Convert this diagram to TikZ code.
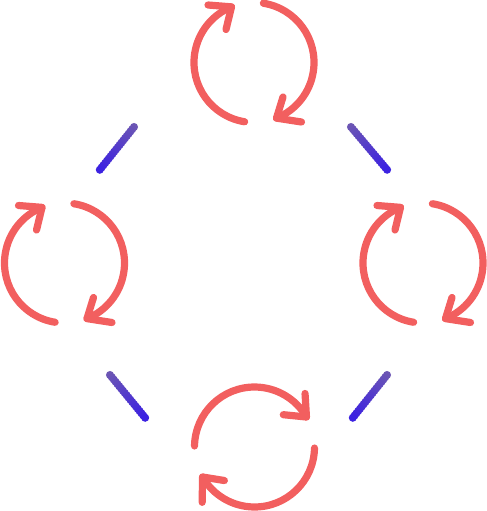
\documentclass[tikz,border=0pt]{standalone}
\usepackage{xcolor}
\usepackage{tikz}
\usetikzlibrary{calc}
\definecolor{CycleRed}{HTML}{F25F5F}
\definecolor{LinkBlue}{HTML}{3A1FE3}
\definecolor{LinkPurple}{HTML}{6C56B4}

\begin{document}
\begin{tikzpicture}[
    cyclearc/.style={CycleRed, line width=4.1pt, line cap=round, line join=round},
    linkbar/.style={line width=4.6pt, line cap=round},
    cycle/.pic={
      \draw[cyclearc] (261:1.2) arc[start angle=261, end angle=112, radius=1.2];
      \draw[cyclearc] (-0.92,1.15) -- (112:1.2) -- (-0.56,0.66);
      \draw[cyclearc] (81:1.2) arc[start angle=81, end angle=-68, radius=1.2];
      \draw[cyclearc] (0.95,-1.19) -- (-68:1.2) -- (0.58,-0.69);
    }
  ]
    \useasboundingbox (0,0) rectangle (9.74,-10.22);

    % four cycles
    \pic (top) at (5.08,-1.25) {cycle};
    \pic (left) at (1.29,-5.26) {cycle};
    \pic (right) at (8.46,-5.26) {cycle};
    \pic[rotate=-82] (bottom) at (5.09,-8.94) {cycle};

    % links between them, purple end first
    \coordinate (linkAa) at (2.68,-2.54);
    \coordinate (linkAb) at (1.96,-3.44);
    \coordinate (linkBa) at (7.02,-2.54);
    \coordinate (linkBb) at (7.78,-3.44);
    \coordinate (linkCa) at (2.20,-7.50);
    \coordinate (linkCb) at (2.94,-8.40);
    \coordinate (linkDa) at (7.74,-7.50);
    \coordinate (linkDb) at (7.02,-8.40);

    \foreach \a/\b in {linkAa/linkAb, linkBa/linkBb, linkCa/linkCb, linkDa/linkDb}
      \foreach \i [evaluate=\i as \j using \i+1, evaluate=\i as \p using \i*5] in {0,...,19}
        \draw[linkbar, LinkBlue!\p!LinkPurple] ($(\a)!\i/20!(\b)$) -- ($(\a)!\j/20!(\b)$);
\end{tikzpicture}
\end{document}
